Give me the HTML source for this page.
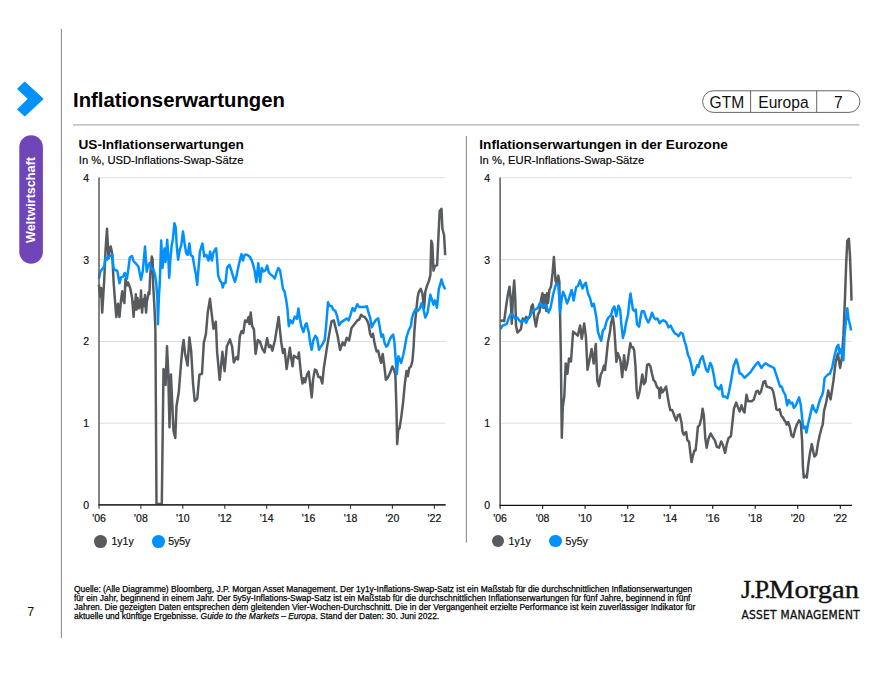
<!DOCTYPE html>
<html><head><meta charset="utf-8"><style>
*{margin:0;padding:0;box-sizing:border-box}
html,body{width:880px;height:680px;background:#fff;overflow:hidden}
body{position:relative;font-family:"Liberation Sans",Arial,sans-serif;color:#000}
.abs{position:absolute;white-space:nowrap}
.yl{position:absolute;width:20px;text-align:right;font-size:10.5px;line-height:14px;color:#111;-webkit-text-stroke:0.2px #111}
.xl{position:absolute;width:40px;text-align:center;font-size:10.5px;line-height:14px;color:#111;-webkit-text-stroke:0.2px #111}
.lg{position:absolute;font-size:10.5px;line-height:14px;color:#111;-webkit-text-stroke:0.2px #111;white-space:nowrap}
.dot{position:absolute;width:12.8px;height:12.8px;border-radius:50%}
.ft{position:absolute;left:74px;top:584.7px;font-size:9px;line-height:9.25px;color:#000;-webkit-text-stroke:0.25px #000;transform:scaleX(0.937);transform-origin:0 0;white-space:nowrap}
</style></head><body>
<svg class="abs" style="left:0;top:0" width="880" height="680" viewBox="0 0 880 680">
<line x1="61.4" y1="29" x2="61.4" y2="638" stroke="#8f8f8f" stroke-width="1.1"/>
<polygon points="24.7,82.6 42.5,98.8 24.7,115.3 18.2,109.4 29.0,98.8 18.2,88.8" fill="#0091ff" stroke="#0091ff" stroke-width="1.8" stroke-linejoin="round"/>
<rect x="19.3" y="135.2" width="23.6" height="128.6" rx="11.8" ry="11.8" fill="#6f45b8"/>
<line x1="73" y1="124.8" x2="859.5" y2="124.8" stroke="#c6c6c6" stroke-width="1.8"/>
<line x1="466.4" y1="136" x2="466.4" y2="542.5" stroke="#8f8f8f" stroke-width="1.1"/>
<rect x="702.6" y="90.8" width="157.3" height="21.6" rx="10.8" ry="10.8" fill="none" stroke="#555" stroke-width="0.9"/>
<line x1="750.6" y1="90.8" x2="750.6" y2="112.4" stroke="#555" stroke-width="0.9"/>
<line x1="816.7" y1="90.8" x2="816.7" y2="112.4" stroke="#555" stroke-width="0.9"/>
<line x1="99.0" y1="177.8" x2="445.7" y2="177.8" stroke="#dcdcdc" stroke-width="1"/>
<line x1="99.0" y1="259.6" x2="445.7" y2="259.6" stroke="#dcdcdc" stroke-width="1"/>
<line x1="99.0" y1="341.4" x2="445.7" y2="341.4" stroke="#dcdcdc" stroke-width="1"/>
<line x1="99.0" y1="423.2" x2="445.7" y2="423.2" stroke="#dcdcdc" stroke-width="1"/>
<polyline points="98.9,284.7 100.1,296.5 101.1,288.0 102.2,312.6 104.1,281.8 105.6,249.4 107.0,228.8 108.5,258.0 109.5,249.4 110.7,246.5 112.2,253.8 113.6,281.8 115.1,302.0 116.3,317.0 118.0,303.8 119.5,317.0 121.0,300.0 122.2,291.3 123.3,300.0 124.4,303.0 125.5,278.8 127.0,285.4 128.1,282.5 130.3,288.4 132.1,298.0 133.6,317.0 134.7,301.6 135.2,306.0 135.8,294.3 136.5,309.7 137.0,302.0 137.6,298.0 138.2,308.0 139.1,308.2 139.7,300.0 140.3,305.0 141.0,290.6 141.6,306.0 142.1,312.6 142.8,302.0 143.5,299.4 144.0,306.0 145.0,295.0 145.5,305.0 146.1,312.6 146.8,302.0 147.6,298.0 148.7,292.0 149.4,294.0 150.1,277.4 150.8,268.0 151.8,256.5 152.6,259.4 153.2,285.3 154.4,306.5 155.4,330.0 156.5,504.0 161.8,504.0 163.5,369.0 164.5,371.0 165.6,385.0 167.0,346.2 168.2,371.0 169.5,427.3 170.9,374.4 172.3,404.4 173.5,431.0 175.3,438.0 176.5,406.0 178.8,392.0 180.6,369.0 182.4,348.0 183.6,340.0 185.0,353.2 187.6,365.6 189.4,337.4 191.2,351.5 193.0,383.2 194.7,401.0 197.3,398.5 199.4,374.7 202.0,373.8 203.8,343.0 205.9,334.1 207.7,313.0 210.0,298.8 211.8,314.7 213.5,328.8 215.8,321.8 217.1,351.8 219.7,380.0 222.4,351.8 224.6,371.2 226.8,346.5 229.9,339.4 232.1,346.5 233.8,362.4 236.5,357.0 238.0,359.4 239.8,336.5 241.5,331.2 243.3,333.0 245.0,320.6 246.8,322.0 248.6,317.0 249.5,324.0 250.7,312.6 252.1,325.9 253.9,329.4 255.6,354.0 257.8,340.0 260.0,341.8 262.4,348.8 264.5,352.4 267.1,338.2 268.9,347.0 270.6,345.3 272.4,350.6 275.0,340.0 278.6,317.0 280.0,330.6 281.3,342.5 283.0,353.1 284.6,349.1 286.6,369.0 288.3,358.4 289.9,347.8 291.2,358.4 292.6,366.3 293.9,355.7 295.9,357.0 297.9,358.4 298.9,352.4 299.8,362.4 301.2,375.6 302.5,383.5 303.8,378.2 305.1,382.2 307.1,374.3 308.7,371.6 310.4,386.2 311.7,397.4 313.1,379.6 314.8,369.6 316.4,370.3 318.4,376.9 320.3,376.9 322.3,383.5 323.8,368.2 326.7,349.1 329.6,331.9 331.5,321.4 333.8,320.4 335.7,328.1 337.6,335.7 340.1,350.1 342.6,342.4 344.5,345.3 346.8,337.7 349.1,340.5 351.5,328.1 354.4,324.3 357.3,320.4 359.2,319.5 361.1,314.7 363.0,316.6 364.4,316.7 366.9,320.0 368.5,324.0 370.1,333.7 371.4,336.9 373.0,333.7 374.6,343.4 376.6,351.5 378.2,350.7 379.8,358.0 381.1,362.8 382.7,353.9 384.3,366.0 385.9,379.8 387.9,377.4 389.8,373.5 392.4,366.5 394.2,370.0 395.4,375.3 396.5,410.6 397.2,444.1 398.2,430.0 399.5,428.2 401.2,417.6 403.0,403.5 404.8,384.1 406.5,370.9 407.8,376.2 409.2,368.2 410.9,366.5 412.4,361.2 413.6,347.0 414.3,332.4 415.5,318.0 417.6,297.6 418.8,291.8 420.6,288.8 422.4,293.5 424.1,308.2 425.3,291.8 427.0,285.9 428.7,281.6 430.4,275.0 431.3,240.8 432.3,244.0 433.5,270.6 434.9,266.2 437.1,265.1 438.6,233.1 439.7,211.0 441.5,208.8 442.4,228.7 444.1,235.3 445.2,255.2" fill="none" stroke="#575b5e" stroke-width="2.5" stroke-linejoin="round"/>
<polyline points="98.9,278.8 100.4,271.5 102.6,268.5 104.1,267.0 105.6,257.5 107.0,259.7 108.5,258.0 110.0,256.0 112.2,254.6 113.6,268.5 115.1,270.0 117.3,270.7 119.5,283.2 121.0,277.4 123.2,276.6 124.7,273.0 126.9,278.8 128.4,268.5 129.8,257.5 132.0,256.0 133.5,261.0 135.7,263.4 138.4,266.5 141.0,279.7 142.8,270.9 145.0,246.6 146.8,271.8 147.9,266.5 149.5,263.0 150.9,267.6 152.0,269.4 153.2,268.8 155.0,274.7 156.2,283.0 157.4,299.4 157.9,324.1 158.9,297.0 159.7,284.0 160.3,268.0 161.2,240.5 162.5,268.0 163.5,258.0 164.5,248.4 165.5,262.0 167.2,239.8 168.2,255.0 169.2,277.7 170.5,258.0 171.8,244.4 172.8,240.0 174.4,223.2 175.7,227.4 176.8,246.8 178.1,259.7 179.7,250.0 181.3,245.2 183.0,231.4 184.6,243.5 186.2,253.3 187.8,254.9 189.4,243.5 190.7,254.9 192.7,256.5 194.3,266.2 195.9,274.3 197.2,284.8 198.3,271.0 199.9,251.6 202.4,243.5 204.3,256.5 206.4,254.9 208.5,260.5 210.1,251.6 211.8,260.6 213.5,252.4 216.1,248.2 217.1,259.4 218.2,275.9 220.0,280.6 221.8,283.0 222.7,287.6 224.1,283.0 225.5,283.0 227.1,267.6 229.4,264.7 231.2,270.0 232.9,275.9 234.9,281.8 236.5,275.9 238.2,267.6 240.0,259.4 241.5,254.1 242.9,260.6 244.7,254.7 247.1,254.7 250.0,257.0 251.8,260.6 253.0,264.4 254.8,271.5 256.3,282.0 258.3,263.2 260.1,282.0 261.8,268.0 263.6,271.5 265.4,270.3 267.1,265.6 268.9,272.6 271.2,275.0 273.0,276.2 274.8,278.5 276.5,272.6 278.3,268.0 280.0,270.3 281.8,280.9 283.0,289.1 284.4,290.9 285.9,298.2 287.4,308.5 288.8,326.2 290.3,320.3 292.5,323.2 294.7,316.6 296.9,318.8 298.4,308.5 299.9,318.8 301.3,326.2 303.5,332.0 305.3,324.7 306.5,323.2 308.7,332.0 310.1,342.4 311.6,349.7 313.1,340.9 315.3,335.7 317.1,338.0 319.0,349.7 320.5,347.0 321.9,345.3 323.4,342.4 324.8,339.6 326.1,326.2 328.0,302.3 329.6,306.1 331.5,306.1 333.4,309.9 335.3,310.9 337.2,316.6 339.1,325.2 341.0,322.4 343.9,320.4 346.8,318.5 348.7,320.4 350.6,314.7 352.5,308.0 354.4,310.9 357.3,304.2 359.2,307.1 362.1,307.1 364.4,307.0 366.9,306.2 368.5,312.7 370.1,317.5 371.7,327.2 373.3,324.0 375.8,320.0 378.2,318.3 379.8,327.2 381.4,336.9 383.0,334.5 384.7,343.4 386.3,346.6 387.9,345.0 389.5,340.2 391.1,336.9 393.1,334.5 394.4,341.8 395.7,359.6 396.8,374.1 398.4,356.3 400.0,359.6 401.2,362.8 403.3,354.7 404.9,346.6 406.6,336.8 408.8,330.2 411.0,325.7 411.8,318.8 413.2,314.0 415.3,309.4 417.6,311.0 419.5,309.0 421.8,303.0 423.5,309.4 425.3,317.6 427.6,312.4 430.3,294.7 433.5,304.7 434.9,300.4 437.0,307.6 438.8,288.8 439.7,286.0 441.5,279.4 443.0,284.9 445.2,289.3" fill="none" stroke="#0091ff" stroke-width="2.5" stroke-linejoin="round"/>
<line x1="99.0" y1="177.5" x2="99.0" y2="504.9" stroke="#5a5a5a" stroke-width="1.5"/>
<line x1="98.4" y1="504.9" x2="445.7" y2="504.9" stroke="#333" stroke-width="1.6"/>
<line x1="99.0" y1="504.9" x2="99.0" y2="508.8" stroke="#333" stroke-width="1.1"/>
<line x1="140.9" y1="504.9" x2="140.9" y2="508.8" stroke="#333" stroke-width="1.1"/>
<line x1="182.8" y1="504.9" x2="182.8" y2="508.8" stroke="#333" stroke-width="1.1"/>
<line x1="224.8" y1="504.9" x2="224.8" y2="508.8" stroke="#333" stroke-width="1.1"/>
<line x1="266.7" y1="504.9" x2="266.7" y2="508.8" stroke="#333" stroke-width="1.1"/>
<line x1="308.6" y1="504.9" x2="308.6" y2="508.8" stroke="#333" stroke-width="1.1"/>
<line x1="350.5" y1="504.9" x2="350.5" y2="508.8" stroke="#333" stroke-width="1.1"/>
<line x1="392.4" y1="504.9" x2="392.4" y2="508.8" stroke="#333" stroke-width="1.1"/>
<line x1="434.4" y1="504.9" x2="434.4" y2="508.8" stroke="#333" stroke-width="1.1"/>
<line x1="500.1" y1="177.8" x2="851.9" y2="177.8" stroke="#dcdcdc" stroke-width="1"/>
<line x1="500.1" y1="259.6" x2="851.9" y2="259.6" stroke="#dcdcdc" stroke-width="1"/>
<line x1="500.1" y1="341.4" x2="851.9" y2="341.4" stroke="#dcdcdc" stroke-width="1"/>
<line x1="500.1" y1="423.2" x2="851.9" y2="423.2" stroke="#dcdcdc" stroke-width="1"/>
<polyline points="500.6,321.2 502.5,320.5 504.2,321.2 505.9,308.0 507.7,295.6 509.5,286.8 510.7,299.1 511.8,323.8 513.0,295.6 514.2,280.6 515.3,299.1 516.0,325.6 517.4,332.6 519.2,330.9 520.9,329.1 522.7,318.5 524.5,320.3 526.2,316.8 528.0,318.5 529.8,316.8 531.5,306.2 532.8,304.4 534.2,316.8 535.9,326.5 536.1,325.6 538.0,314.3 539.5,312.0 541.3,298.2 542.5,293.3 543.7,307.8 544.9,294.9 546.2,311.0 547.0,293.3 548.0,303.0 549.4,290.0 551.0,286.8 552.6,272.4 553.9,257.0 555.5,280.4 556.5,284.0 558.3,275.6 559.4,282.0 559.5,293.2 560.1,316.2 560.8,351.2 561.8,437.7 562.8,406.8 564.3,396.5 565.7,363.5 567.4,373.8 569.0,358.4 571.0,361.5 573.1,331.6 575.6,333.7 577.8,335.7 580.1,325.4 581.8,338.8 584.2,323.4 585.9,336.8 587.5,369.7 589.6,359.4 591.6,349.1 593.7,363.5 595.8,344.0 596.6,365.6 597.4,381.2 599.0,386.0 600.7,374.7 602.3,371.5 603.9,365.8 605.0,369.9 606.3,358.5 607.9,342.4 609.6,334.3 611.2,322.9 612.8,316.5 614.1,326.2 615.2,342.4 616.4,361.8 617.7,352.9 619.3,356.9 620.6,361.8 622.2,377.2 624.1,355.3 625.7,369.9 627.4,363.4 629.0,352.1 630.3,343.2 631.4,347.2 633.0,347.2 634.2,350.5 635.5,366.6 636.7,390.9 637.9,398.2 639.5,392.0 640.7,385.0 642.3,374.5 643.9,384.2 645.5,381.8 647.1,364.8 648.8,364.0 650.4,366.4 652.0,373.7 653.6,380.2 655.2,381.8 656.8,386.6 659.0,389.1 659.6,398.0 660.9,387.4 662.5,392.3 664.1,389.9 666.1,386.6 667.4,394.7 669.0,404.4 670.3,410.1 672.2,410.1 673.5,413.5 674.5,416.5 676.2,420.6 677.9,415.3 679.7,414.4 681.5,422.4 682.4,431.2 683.8,434.7 685.0,432.9 686.2,432.1 687.3,440.0 689.1,441.8 690.3,452.3 691.5,462.1 692.9,455.9 694.4,450.6 695.5,450.6 696.5,441.8 697.9,426.8 699.6,425.0 701.4,418.0 702.6,408.8 703.9,415.9 705.3,438.5 706.7,447.8 708.5,438.8 710.6,433.5 712.7,437.1 715.0,440.6 716.8,446.8 719.1,447.6 721.2,441.5 722.9,445.0 725.1,452.9 726.8,444.1 728.6,437.9 730.9,436.2 732.6,421.2 733.9,408.8 736.2,402.6 737.9,407.1 739.7,411.5 741.5,405.3 743.2,410.6 744.5,412.5 746.5,394.7 748.1,401.2 751.7,401.2 753.8,399.6 756.2,391.5 757.8,390.7 759.4,393.9 761.0,391.5 763.5,381.8 765.1,381.0 766.7,386.6 769.1,387.4 771.6,388.3 773.2,391.5 774.8,399.6 776.4,409.3 778.0,410.1 779.6,409.3 781.3,415.8 782.9,417.4 784.5,420.6 785.3,421.2 786.7,424.7 788.2,422.0 789.7,426.5 791.5,435.3 793.2,437.1 795.0,430.0 796.8,424.7 799.1,420.3 800.8,422.9 802.1,440.6 802.9,467.0 803.8,477.6 805.6,475.9 806.8,477.6 808.2,465.3 810.0,452.9 811.8,444.1 813.2,451.2 814.4,456.5 816.2,454.7 817.9,444.1 819.7,435.3 821.5,428.2 822.7,424.7 824.1,410.6 826.2,402.4 828.2,390.6 830.6,399.4 833.4,381.0 835.6,362.4 837.9,353.5 840.1,367.9 841.8,358.0 843.4,335.9 844.9,300.6 846.2,263.1 847.3,241.0 848.9,238.8 850.0,256.5 851.1,285.2 851.5,300.6" fill="none" stroke="#575b5e" stroke-width="2.5" stroke-linejoin="round"/>
<polyline points="500.6,329.1 502.4,325.6 504.5,325.0 506.8,323.8 508.6,318.5 510.7,314.1 513.0,315.0 514.8,318.5 517.4,317.6 519.2,320.3 520.9,322.1 522.7,321.0 524.5,320.3 526.2,322.9 528.0,318.5 530.6,315.0 532.4,310.6 535.1,309.7 537.7,308.0 540.1,302.9 542.4,307.3 545.1,304.7 546.8,307.3 548.6,312.6 550.7,307.3 553.0,295.0 555.3,286.2 556.5,283.5 558.3,286.2 559.2,296.8 560.1,312.6 561.5,300.0 563.0,291.7 565.0,296.0 567.0,303.5 568.5,300.0 570.0,295.0 571.7,290.0 573.6,300.6 575.0,293.0 576.2,287.0 578.0,286.0 580.0,280.4 582.5,288.5 584.0,285.0 585.8,282.8 588.0,293.4 590.0,298.0 592.0,306.3 593.8,303.8 595.0,310.0 596.4,317.7 598.0,332.0 599.7,337.0 601.2,340.9 602.9,330.3 604.7,328.5 606.5,321.5 608.2,317.9 610.9,315.3 612.6,309.1 614.4,306.5 616.2,316.2 618.5,305.6 620.2,310.0 621.3,324.1 622.9,337.9 624.5,332.2 626.1,322.5 628.1,314.4 629.4,301.5 630.5,293.4 631.7,301.5 632.9,309.6 634.6,311.2 635.8,309.6 637.0,324.1 639.1,326.6 640.2,319.3 641.8,311.2 643.9,311.2 645.9,317.7 648.3,322.5 649.9,319.3 652.0,312.8 654.0,317.7 655.6,319.3 657.5,318.5 659.6,323.3 661.7,320.9 663.5,320.3 666.2,322.1 668.5,327.4 670.6,325.6 672.7,330.0 675.0,333.5 676.8,334.4 678.5,336.2 680.8,332.6 682.6,333.5 684.4,340.6 686.1,345.9 687.9,354.7 689.6,358.2 691.4,365.3 693.2,375.0 694.9,372.3 697.1,365.3 698.5,367.1 700.2,360.0 702.5,356.0 704.1,362.0 706.2,370.0 707.9,371.8 710.2,362.9 712.0,366.5 713.8,375.3 715.5,385.9 717.3,387.6 719.1,389.4 721.2,385.0 722.9,396.5 725.1,396.5 727.4,398.2 729.1,391.2 731.4,378.8 733.5,366.5 736.2,359.4 737.9,364.7 739.7,373.5 741.3,373.7 744.5,377.7 747.3,375.3 750.5,372.1 753.8,367.2 756.2,364.0 758.1,362.0 759.7,364.8 761.4,368.0 763.0,365.6 765.6,363.2 767.8,364.8 770.7,366.4 774.0,368.0 775.9,373.7 778.0,380.2 780.1,386.6 781.7,386.6 783.4,391.5 785.3,395.0 787.1,405.3 788.8,400.0 790.6,403.5 792.3,402.6 793.8,407.9 795.9,405.3 797.6,400.9 799.1,397.4 800.8,405.3 802.1,417.6 803.3,428.2 805.1,426.5 806.5,432.6 807.9,424.7 809.6,417.6 811.4,409.7 812.6,405.3 814.4,409.7 816.2,412.4 817.4,408.8 818.8,403.5 820.6,398.2 822.0,395.6 823.2,391.2 824.6,378.0 827.9,374.5 830.0,373.5 832.3,366.8 834.5,355.7 836.8,346.9 838.3,344.7 839.6,353.5 841.2,349.1 843.4,360.2 844.5,335.9 846.2,318.2 847.3,308.3 848.4,318.2 850.0,324.9 851.1,330.4" fill="none" stroke="#0091ff" stroke-width="2.5" stroke-linejoin="round"/>
<line x1="500.1" y1="177.5" x2="500.1" y2="505.4" stroke="#5a5a5a" stroke-width="1.5"/>
<line x1="499.5" y1="505.4" x2="851.9" y2="505.4" stroke="#111" stroke-width="1.15"/>
<line x1="500.1" y1="505.4" x2="500.1" y2="508.8" stroke="#111" stroke-width="1.1"/>
<line x1="542.6" y1="505.4" x2="542.6" y2="508.8" stroke="#111" stroke-width="1.1"/>
<line x1="585.1" y1="505.4" x2="585.1" y2="508.8" stroke="#111" stroke-width="1.1"/>
<line x1="627.7" y1="505.4" x2="627.7" y2="508.8" stroke="#111" stroke-width="1.1"/>
<line x1="670.2" y1="505.4" x2="670.2" y2="508.8" stroke="#111" stroke-width="1.1"/>
<line x1="712.7" y1="505.4" x2="712.7" y2="508.8" stroke="#111" stroke-width="1.1"/>
<line x1="755.2" y1="505.4" x2="755.2" y2="508.8" stroke="#111" stroke-width="1.1"/>
<line x1="797.7" y1="505.4" x2="797.7" y2="508.8" stroke="#111" stroke-width="1.1"/>
<line x1="840.3" y1="505.4" x2="840.3" y2="508.8" stroke="#111" stroke-width="1.1"/>
</svg>
<div class="abs" style="left:31px;top:199.5px;transform:translate(-50%,-50%) rotate(-90deg);font-size:12.6px;font-weight:bold;color:#fff;line-height:14px">Weltwirtschaft</div>
<div class="abs" style="left:73px;top:88px;font-size:20.3px;font-weight:bold;line-height:24px">Inflationserwartungen</div>
<div class="abs" style="left:709.5px;top:94px;font-size:15.6px;line-height:17px;color:#111">GTM</div>
<div class="abs" style="left:758.3px;top:94px;font-size:15.6px;line-height:17px;color:#111">Europa</div>
<div class="abs" style="left:834px;top:94px;font-size:15.6px;line-height:17px;color:#111">7</div>
<div class="abs" style="left:78.5px;top:137.4px;font-size:13.6px;font-weight:bold;line-height:16px">US-Inflationserwartungen</div>
<div class="abs" style="left:78.8px;top:153.8px;font-size:11.2px;line-height:13px;-webkit-text-stroke:0.15px #000">In %, USD-Inflations-Swap-Sätze</div>
<div class="abs" style="left:479.3px;top:137.4px;font-size:13.6px;font-weight:bold;line-height:16px">Inflationserwartungen in der Eurozone</div>
<div class="abs" style="left:479.5px;top:153.8px;font-size:11.2px;line-height:13px;-webkit-text-stroke:0.15px #000">In %, EUR-Inflations-Swap-Sätze</div>
<div class="yl" style="left:69.0px;top:170.8px">4</div>
<div class="yl" style="left:69.0px;top:252.6px">3</div>
<div class="yl" style="left:69.0px;top:334.4px">2</div>
<div class="yl" style="left:69.0px;top:416.2px">1</div>
<div class="yl" style="left:69.0px;top:498.0px">0</div>
<div class="xl" style="left:79.0px;top:510.5px">'06</div>
<div class="xl" style="left:120.9px;top:510.5px">'08</div>
<div class="xl" style="left:162.8px;top:510.5px">'10</div>
<div class="xl" style="left:204.8px;top:510.5px">'12</div>
<div class="xl" style="left:246.7px;top:510.5px">'14</div>
<div class="xl" style="left:288.6px;top:510.5px">'16</div>
<div class="xl" style="left:330.5px;top:510.5px">'18</div>
<div class="xl" style="left:372.4px;top:510.5px">'20</div>
<div class="xl" style="left:414.4px;top:510.5px">'22</div>
<div class="yl" style="left:470.1px;top:170.8px">4</div>
<div class="yl" style="left:470.1px;top:252.6px">3</div>
<div class="yl" style="left:470.1px;top:334.4px">2</div>
<div class="yl" style="left:470.1px;top:416.2px">1</div>
<div class="yl" style="left:470.1px;top:498.0px">0</div>
<div class="xl" style="left:480.1px;top:510.5px">'06</div>
<div class="xl" style="left:522.6px;top:510.5px">'08</div>
<div class="xl" style="left:565.1px;top:510.5px">'10</div>
<div class="xl" style="left:607.7px;top:510.5px">'12</div>
<div class="xl" style="left:650.2px;top:510.5px">'14</div>
<div class="xl" style="left:692.7px;top:510.5px">'16</div>
<div class="xl" style="left:735.2px;top:510.5px">'18</div>
<div class="xl" style="left:777.7px;top:510.5px">'20</div>
<div class="xl" style="left:820.3px;top:510.5px">'22</div>
<div class="dot" style="left:94.1px;top:534.8px;background:#575b5e"></div>
<div class="lg" style="left:111.5px;top:533.8px">1y1y</div>
<div class="dot" style="left:151.8px;top:534.8px;background:#0091ff"></div>
<div class="lg" style="left:168.2px;top:533.8px">5y5y</div>
<div class="dot" style="left:491.6px;top:534.6px;background:#575b5e"></div>
<div class="lg" style="left:508.6px;top:534px">1y1y</div>
<div class="dot" style="left:549.1px;top:534.6px;background:#0091ff"></div>
<div class="lg" style="left:565.6px;top:534px">5y5y</div>
<div class="ft">Quelle: (Alle Diagramme) Bloomberg, J.P. Morgan Asset Management. Der 1y1y-Inflations-Swap-Satz ist ein Maßstab für die durchschnittlichen Inflationserwartungen<br>für ein Jahr, beginnend in einem Jahr. Der 5y5y-Inflations-Swap-Satz ist ein Maßstab für die durchschnittlichen Inflationserwartungen für fünf Jahre, beginnend in fünf<br>Jahren. Die gezeigten Daten entsprechen dem gleitenden Vier-Wochen-Durchschnitt. Die in der Vergangenheit erzielte Performance ist kein zuverlässiger Indikator für<br>aktuelle und künftige Ergebnisse. <i>Guide to the Markets – Europa</i>. Stand der Daten: 30. Juni 2022.</div>
<div class="abs" style="left:27.3px;top:605px;font-size:12.5px;line-height:14px;color:#111">7</div>
<div class="abs" style="left:741px;top:576px;font-family:'Liberation Serif',serif;font-size:26px;line-height:28px;color:#111;-webkit-text-stroke:0.35px #111"><span style="letter-spacing:-1.6px">J.P.</span><span style="display:inline-block;transform:scaleX(1.1);transform-origin:0 0">Morgan</span></div>
<div class="abs" style="left:741.5px;top:607.6px;font-family:'DejaVu Sans Condensed','DejaVu Sans',sans-serif;font-size:11.8px;line-height:14px;color:#111;-webkit-text-stroke:0.3px #111;letter-spacing:0.28px">ASSET MANAGEMENT</div>
</body></html>
